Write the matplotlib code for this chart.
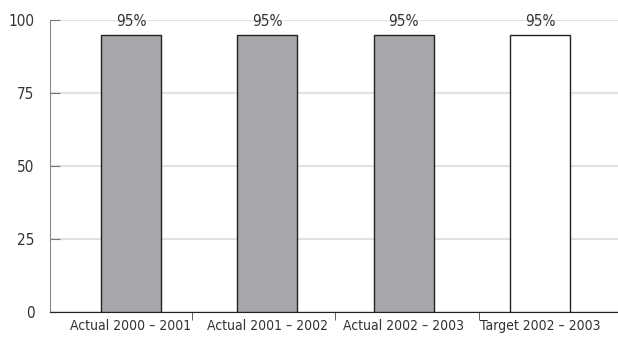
import numpy as np
import matplotlib.pyplot as plt

plt.rcParams['font.family'] = ['DejaVu Sans']
plt.rcParams['font.stretch'] = 'condensed'

categories = ['Actual 2000 – 2001', 'Actual 2001 – 2002', 'Actual 2002 – 2003', 'Target 2002 – 2003']
values = [95, 95, 95, 95]
bar_labels = ['95%', '95%', '95%', '95%']
yticks = [0, 25, 50, 75, 100]
colors = ['#a7a8ac', '#a7a8ac', '#a7a8ac', 'white']

fig = plt.figure(figsize=(6.18, 3.37), dpi=100)
ax = fig.add_axes([50 / 618, 25 / 337, 568 / 618, 292 / 337])

x = np.arange(len(categories))
bars = ax.bar(x, values, width=0.44, color=colors, edgecolor='#222222', linewidth=1, zorder=3)

# value labels above the bars
for b, lab in zip(bars, bar_labels):
    ax.annotate(lab, (b.get_x() + b.get_width() / 2, b.get_height()),
                xytext=(0, 4), textcoords='offset points', ha='center', va='bottom',
                fontsize=11, color='#333333', zorder=4)

ax.set_xlim(-0.594, 3.573)
ax.set_ylim(0, 100)
ax.set_yticks(yticks)
ax.yaxis.grid(True, color='#e2e2e2', linewidth=1.5, zorder=0)
ax.set_axisbelow(True)

ax.set_xticks(x)
ax.set_xticklabels(categories, fontsize=10, color='#333333')
ax.set_xticks([0.45, 1.5, 2.55], minor=True)
ax.tick_params(axis='x', which='major', length=0, pad=5)
ax.tick_params(axis='x', which='minor', length=6, color='#444444', direction='out')
ax.tick_params(axis='y', length=7, direction='in', color='#777777', labelsize=11,
               labelcolor='#333333', pad=11)

for s in ['top', 'right']:
    ax.spines[s].set_visible(False)
ax.spines['left'].set_color('#888888')
ax.spines['bottom'].set_color('#222222')

fig.savefig('out.png', dpi=100)
